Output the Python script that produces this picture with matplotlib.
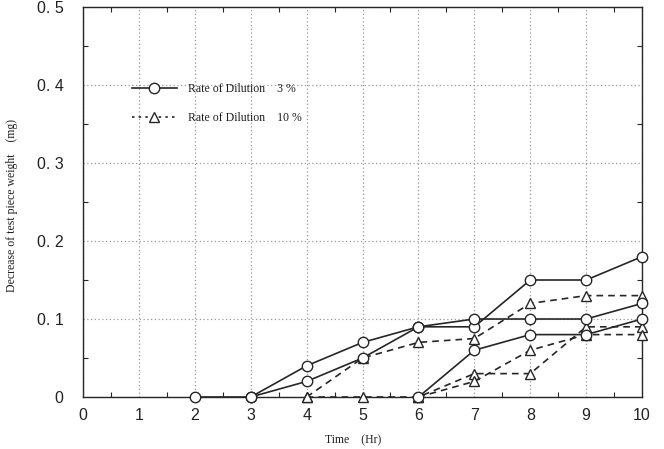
import matplotlib
matplotlib.use("Agg")
import matplotlib.pyplot as plt
from matplotlib.lines import Line2D
from matplotlib.ticker import MultipleLocator, FixedLocator, FixedFormatter

# weight loss (mg) against time (Hr), three runs per dilution rate
hours = [0, 1, 2, 3, 4, 5, 6, 7, 8, 9, 10]

run_3pct_a = {"t": [2, 3, 4, 5, 6, 7, 8, 9, 10],
              "w": [0, 0, 0.04, 0.07, 0.09, 0.09, 0.15, 0.15, 0.18]}
run_3pct_b = {"t": [3, 4, 5, 6, 7, 8, 9, 10],
              "w": [0, 0.02, 0.05, 0.09, 0.10, 0.10, 0.10, 0.12]}
run_3pct_c = {"t": [6, 7, 8, 9, 10],
              "w": [0, 0.06, 0.08, 0.08, 0.10]}

run_10pct_a = {"t": [4, 5, 6, 7, 8, 9, 10],
               "w": [0, 0.05, 0.07, 0.075, 0.12, 0.13, 0.13]}
run_10pct_b = {"t": [4, 5, 6, 7, 8, 9, 10],
               "w": [0, 0, 0, 0.03, 0.03, 0.09, 0.09]}
run_10pct_c = {"t": [6, 7, 8, 9, 10],
               "w": [0, 0.02, 0.06, 0.08, 0.08]}

y_ticks = [0, 0.1, 0.2, 0.3, 0.4, 0.5]
y_tick_labels = ["0", "0. 1", "0. 2", "0. 3", "0. 4", "0. 5"]
legend_labels = ["Rate of Dilution    3 %", "Rate of Dilution    10 %"]

fig = plt.figure(figsize=(6.64, 4.49), dpi=100)
ax = fig.add_axes([0.125, 0.1158, 0.842, 0.8686])

ink = "#262626"
solid = dict(color=ink, linewidth=1.2, marker="o", markersize=7.5,
             markerfacecolor="white", markeredgecolor=ink,
             markeredgewidth=1.0)
dashed = dict(color=ink, linewidth=1.2, linestyle=(0, (4, 3)),
              marker="^", markersize=7.5, markerfacecolor="white",
              markeredgecolor=ink, markeredgewidth=1.0)

for run in (run_10pct_a, run_10pct_b, run_10pct_c):
    ax.plot(run["t"], run["w"], clip_on=False, zorder=3, **dashed)
for run in (run_3pct_a, run_3pct_b, run_3pct_c):
    ax.plot(run["t"], run["w"], clip_on=False, zorder=4, **solid)

ax.set_xlim(0, 10)
ax.set_ylim(0, 0.5)

ax.xaxis.set_major_locator(FixedLocator(hours))
ax.xaxis.set_minor_locator(MultipleLocator(0.5))
ax.yaxis.set_major_locator(FixedLocator(y_ticks))
ax.yaxis.set_major_formatter(FixedFormatter(y_tick_labels))
ax.yaxis.set_minor_locator(MultipleLocator(0.05))

ax.grid(True, which="major", color="#9a9a9a", linestyle=(0, (1, 2)),
        linewidth=0.9)

ax.tick_params(which="both", direction="in", top=True, right=True, color=ink)
ax.tick_params(which="major", length=0)
ax.tick_params(which="minor", length=3.5, width=0.8)
ax.tick_params(axis="x", which="major", pad=8)
ax.tick_params(axis="y", which="major", pad=14)
for lab in ax.get_xticklabels() + ax.get_yticklabels():
    lab.set_fontfamily("Liberation Sans")
    lab.set_fontsize(11.5)
    lab.set_color("#222222")

for spine in ax.spines.values():
    spine.set_color(ink)
    spine.set_linewidth(1.0)

label_font = {"family": "Liberation Serif", "size": 8.5, "color": "#1e1e1e"}
ax.set_xlabel("Time    (Hr)", fontdict=label_font)
ax.xaxis.set_label_coords(0.483, -0.095)
ax.set_ylabel("Decrease of test piece weight    (mg)", fontdict=label_font)
ax.yaxis.set_label_coords(-0.116, 0.49)

handles = [
    Line2D([], [], color=ink, linewidth=1.2, marker="o", markersize=7.5,
           markerfacecolor="white", markeredgecolor=ink),
    Line2D([], [], color=ink, linewidth=1.2, linestyle=(0, (1.5, 2.5)),
           marker="^", markersize=7.5, markerfacecolor="white",
           markeredgecolor=ink),
]
leg = ax.legend(handles, legend_labels, loc="upper left",
                bbox_to_anchor=(0.068, 0.833), frameon=False,
                prop={"family": "Liberation Serif", "size": 8.5},
                handlelength=3.8, handletextpad=1.0, labelspacing=1.45)
for txt in leg.get_texts():
    txt.set_color("#1e1e1e")

fig.savefig("out.png", dpi=100)
